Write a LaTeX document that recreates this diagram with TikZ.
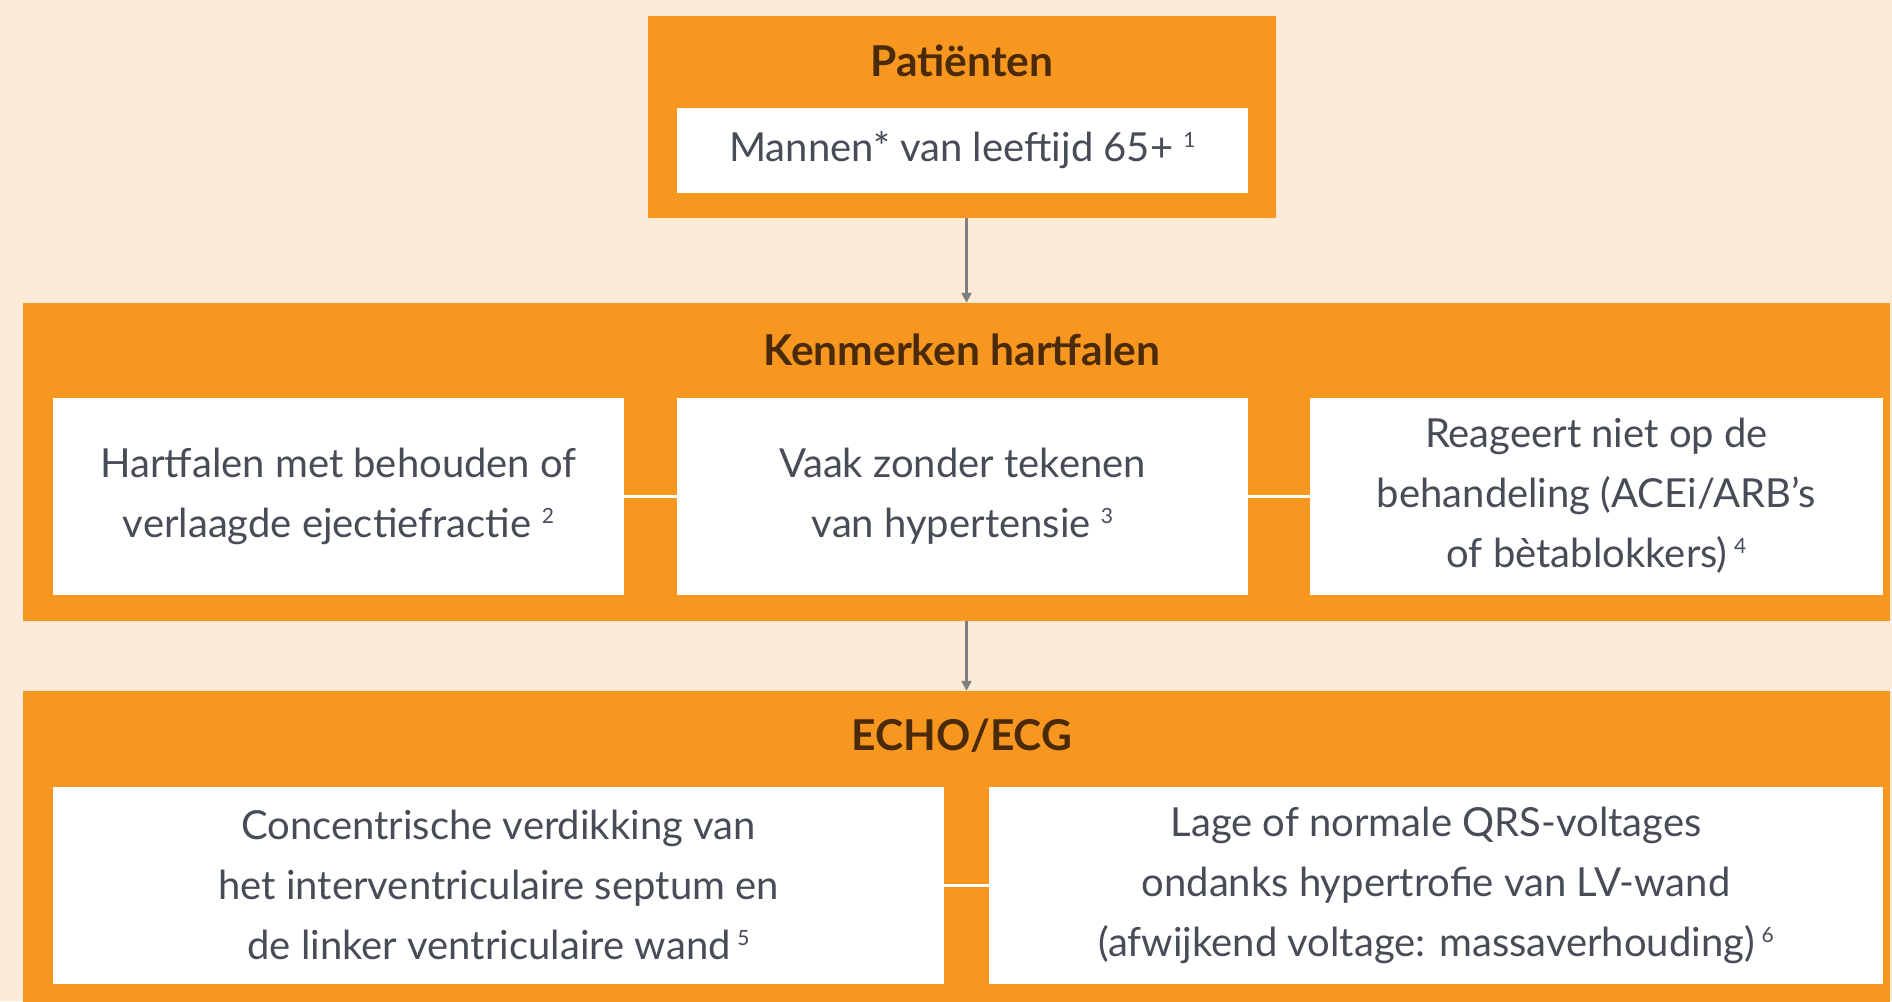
\documentclass[tikz,border=0pt]{standalone}
\usepackage{fontspec}
\setmainfont{Lato}
\usetikzlibrary{arrows.meta}
\definecolor{bgcream}{HTML}{FDEBD8}
\definecolor{orng}{HTML}{F7971F}
\definecolor{ttl}{HTML}{4A2A08}
\definecolor{txt}{HTML}{474C56}
\definecolor{arrgray}{HTML}{7F7F7F}
\newcommand{\fn}[1]{\raisebox{14pt}{\fontsize{21}{21}\selectfont #1}}
\begin{document}
\begin{tikzpicture}[x=1pt,y=1pt,
  outer/.style={fill=orng,draw=none,inner sep=0pt},
  wbox/.style={fill=white,draw=none,inner sep=0pt,align=center,text=txt,
    font=\fontsize{40}{60}\selectfont},
  ttlnode/.style={text=ttl,font=\fontsize{42.5}{48}\selectfont\bfseries,inner sep=0pt},
  arr/.style={draw=arrgray,line width=2.2pt,-{Triangle[length=10pt,width=10pt]}},
  link/.style={draw=white,line width=3pt}]
\useasboundingbox (0,0) rectangle (1892,-1001);
\fill[bgcream] (0,0) rectangle (1892,-1001);
% top group
\node[outer,minimum width=628pt,minimum height=202pt] (top) at (962,-117) {};
\node[ttlnode] (toptitle) at (962,-61) {Patiënten};
\node[wbox,minimum width=571pt,minimum height=85pt] (men) at (962.5,-150.5) {Mannen* van leeftijd 65+ \fn{1}};
% middle group
\node[outer,minimum width=1867pt,minimum height=318pt] (mid) at (956.5,-462) {};
\node[ttlnode] (midtitle) at (962,-350) {Kenmerken hartfalen};
\node[wbox,minimum width=571pt,minimum height=197pt] (hf) at (338.5,-496) {Hartfalen met behouden of\\verlaagde ejectiefractie \fn{2}};
\node[wbox,minimum width=571pt,minimum height=197pt] (vz) at (962.5,-496) {Vaak zonder tekenen\\van hypertensie \fn{3}};
\node[wbox,minimum width=573pt,minimum height=197pt] (rn) at (1596.5,-496) {Reageert niet op de\\behandeling (ACEi/ARB’s\\of bètablokkers)\,\fn{4}};
% bottom group
\node[outer,minimum width=1867pt,minimum height=330pt] (bot) at (956.5,-856) {};
\node[ttlnode] (bottitle) at (962,-736) {ECHO/ECG};
\node[wbox,minimum width=891pt,minimum height=197pt] (cv) at (498.5,-885) {Concentrische verdikking van\\het interventriculaire septum en\\de linker ventriculaire wand\,\fn{5}};
\node[wbox,minimum width=894pt,minimum height=197pt] (lq) at (1436,-885) {Lage of normale QRS-voltages\\ondanks hypertrofie van LV-wand\\(afwijkend voltage: massaverhouding)\,\fn{6}};
% connectors
\draw[link] (hf.east) -- (vz.west);
\draw[link] (vz.east) -- (rn.west);
\draw[link] (cv.east) -- (lq.west);
\draw[arr] ([xshift=4.5pt]top.south) -- ([xshift=4.5pt]top.south |- mid.north);
\draw[arr] ([xshift=10pt]mid.south) -- ([xshift=10pt]mid.south |- bot.north);
\end{tikzpicture}
\end{document}
